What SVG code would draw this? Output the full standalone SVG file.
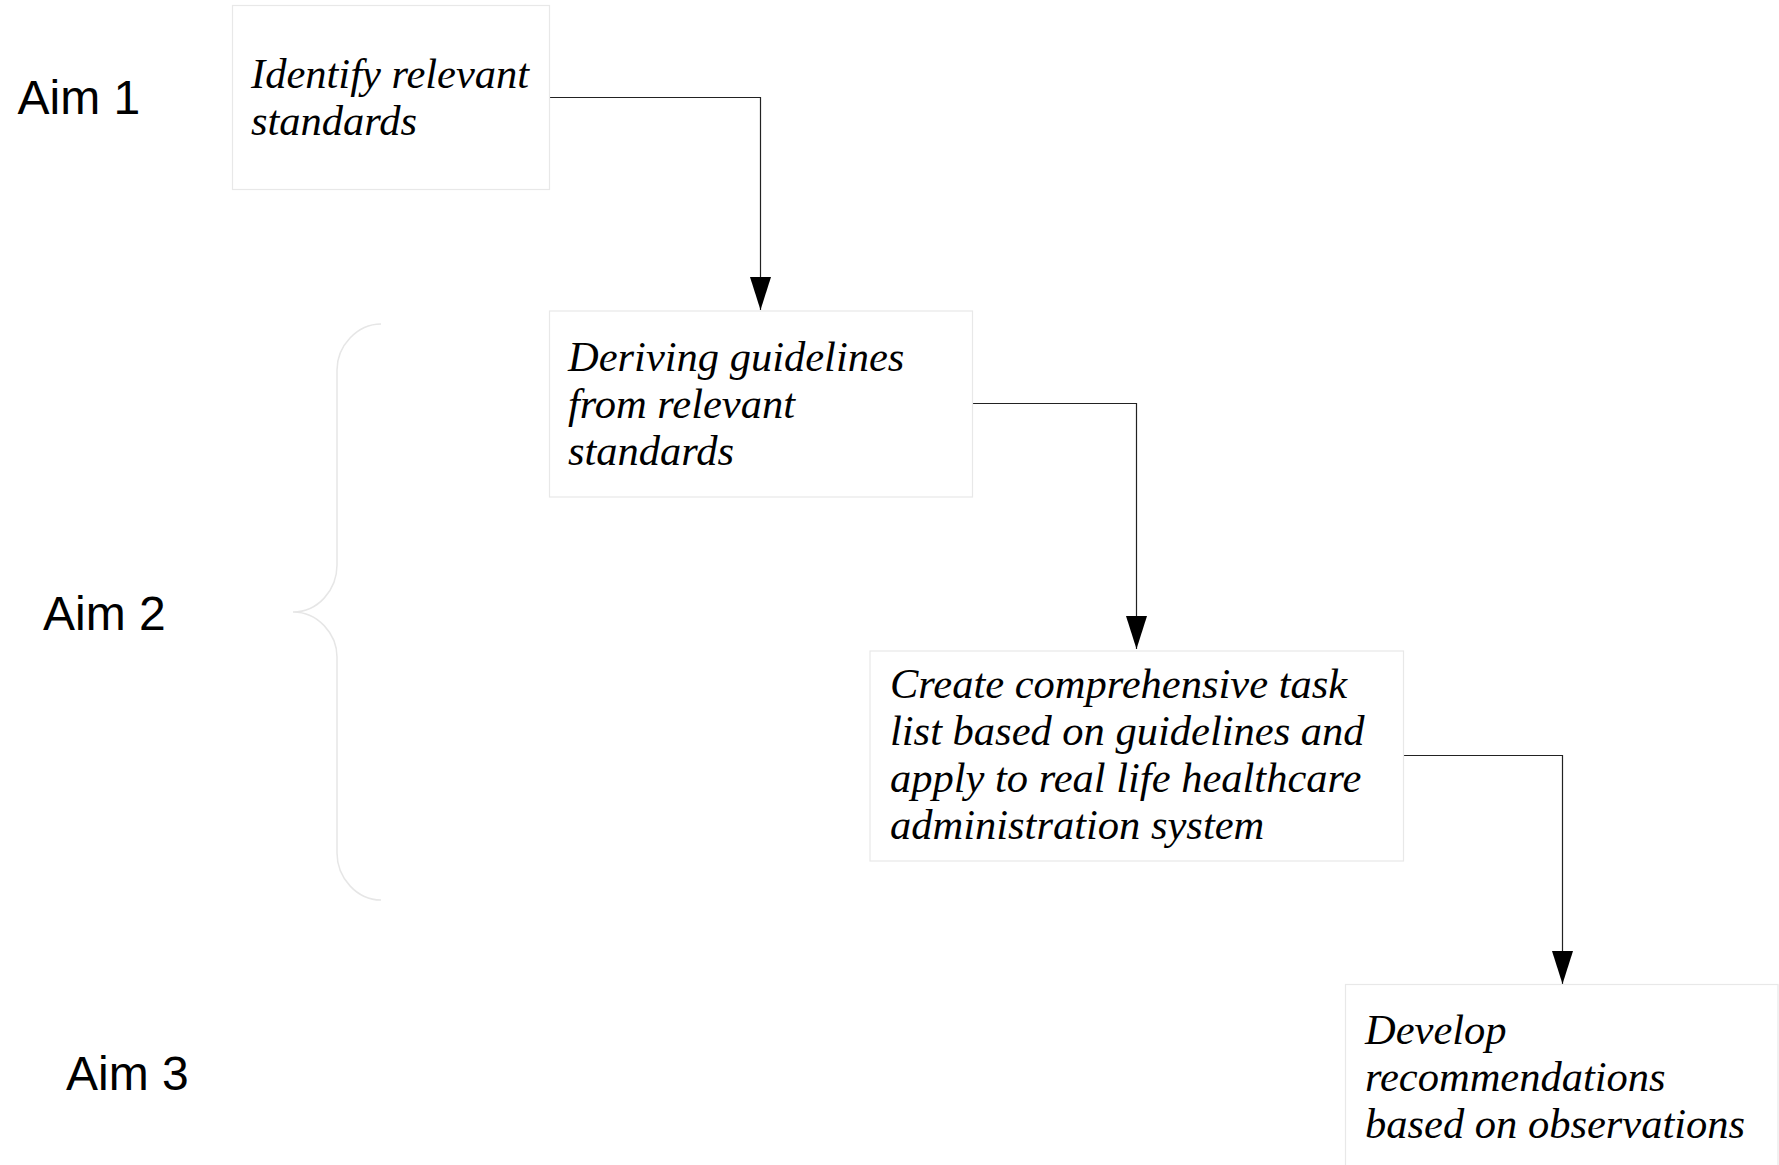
<svg xmlns="http://www.w3.org/2000/svg" width="1779" height="1165" viewBox="0 0 1779 1165">
<style>
.aim{font-family:"Liberation Sans",Arial,sans-serif;font-size:48px;fill:#000}
.box{fill:#fff;stroke:#e8e8e8;stroke-width:1.2}
.lbl{font-family:"Liberation Serif","Times New Roman",serif;font-style:italic;font-size:42.5px;fill:#000}
.conn{fill:none;stroke:#222;stroke-width:1.2}
.brace{fill:none;stroke:#e6e6e6;stroke-width:1.5}
</style>
<defs>
<marker id="arr" viewBox="0 0 33 21" refX="33" refY="10.5" markerWidth="33" markerHeight="21" markerUnits="userSpaceOnUse" orient="auto">
<path d="M0,0 L33,10.5 L0,21 z" fill="#000"/>
</marker>
</defs>
<rect width="1779" height="1165" fill="#fff"/>
<g id="aim-labels">
<text class="aim" x="17.5" y="114">Aim 1</text>
<text class="aim" x="43" y="630">Aim 2</text>
<text class="aim" x="66" y="1090">Aim 3</text>
</g>
<g id="brace">
<path class="brace" d="M381,324 C357,324 337,346 337,370 L337,565 C337,590 318,612 293,612 C318,612 337,634 337,657 L337,853 C337,878 357,900 381,900"/>
</g>
<g id="connectors">
<path class="conn" d="M549.5,97.5 H760.5 V310" marker-end="url(#arr)"/>
<path class="conn" d="M972.5,403.5 H1136.5 V649" marker-end="url(#arr)"/>
<path class="conn" d="M1403.5,755.5 H1562.5 V984" marker-end="url(#arr)"/>
</g>
<g id="node1">
<rect class="box" x="232.5" y="5.5" width="317" height="184"/>
<text class="lbl" x="251" y="88">Identify relevant</text>
<text class="lbl" x="251" y="135">standards</text>
</g>
<g id="node2">
<rect class="box" x="549.5" y="311" width="423" height="186"/>
<text class="lbl" x="568" y="371">Deriving guidelines</text>
<text class="lbl" x="568" y="418">from relevant</text>
<text class="lbl" x="568" y="465">standards</text>
</g>
<g id="node3">
<rect class="box" x="870" y="651" width="533.5" height="210"/>
<text class="lbl" x="890" y="698">Create comprehensive task</text>
<text class="lbl" x="890" y="745">list based on guidelines and</text>
<text class="lbl" x="890" y="792">apply to real life healthcare</text>
<text class="lbl" x="890" y="839">administration system</text>
</g>
<g id="node4">
<rect class="box" x="1345.5" y="984.5" width="432.5" height="260"/>
<text class="lbl" x="1365" y="1044">Develop</text>
<text class="lbl" x="1365" y="1091">recommendations</text>
<text class="lbl" x="1365" y="1138">based on observations</text>
</g>
</svg>
